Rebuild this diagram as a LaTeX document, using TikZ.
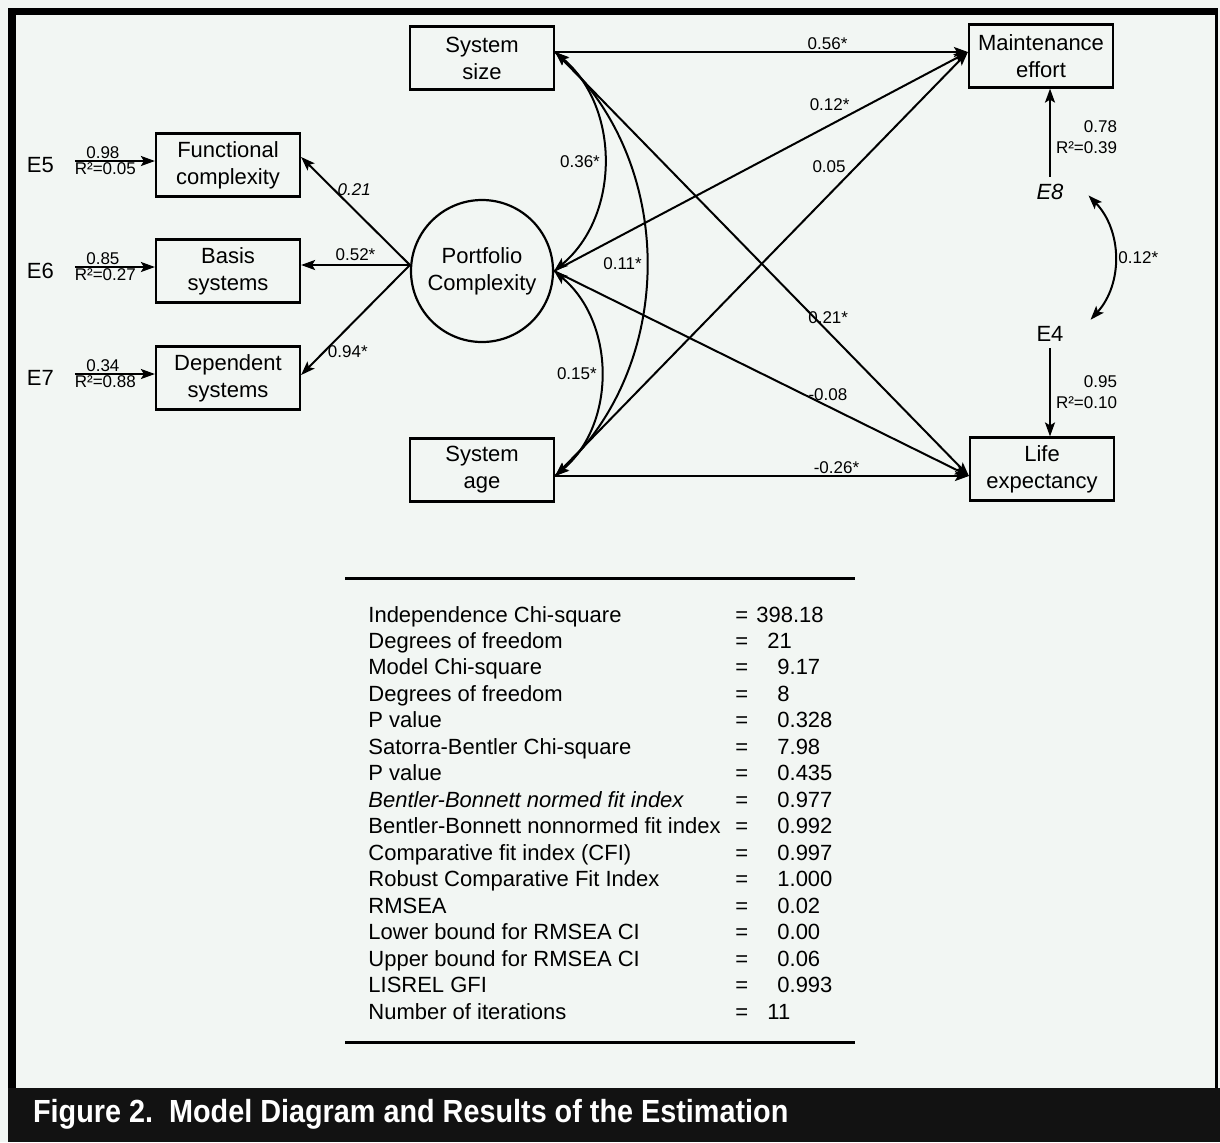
\documentclass[tikz,border=0pt]{standalone}
\usepackage{fontspec}
\setmainfont{Liberation Sans}
\newfontfamily\capfont[FakeStretch=0.9]{Liberation Sans Bold}
\usetikzlibrary{positioning,arrows.meta}
\definecolor{paper}{HTML}{F2F6F3}

\begin{document}
\begin{tikzpicture}[ x=0.5pt, y=-0.5pt,
	box/.style={draw, line width=1.1pt, minimum width=72pt, minimum height=31.5pt, inner sep=1pt, align=center, font=\fontsize{11}{13.5}\selectfont},
	latent/.style={draw, circle, line width=1.1pt, minimum size=71pt, inner sep=0pt, align=center, font=\fontsize{11}{13.5}\selectfont},
	err/.style={font=\fontsize{11}{13}\selectfont},
	coef/.style={font=\fontsize{8.5}{10.5}\selectfont, inner sep=1.5pt},
	fit/.style={font=\fontsize{11}{13}\selectfont, inner sep=0pt},
	path/.style={line width=1pt, -{Stealth[length=7pt,width=5pt,inset=1.5pt]}},
	cov/.style={line width=1pt, {Stealth[length=7pt,width=5pt,inset=1.5pt]}-{Stealth[length=7pt,width=5pt,inset=1.5pt]}} ]
	\useasboundingbox (0,0) rectangle (1220,1142);
	\fill[paper] (0,0) rectangle (1220,1142);
	% frame and caption band
	\fill[black] (8,8) rectangle (1218,15);
	\fill[black] (8,8) rectangle (16,1142);
	\draw[line width=1.5pt] (1216.5,8) -- (1216.5,1088);
	\fill[black!93] (8,1088) rectangle (1220,1142);
	\node[anchor=west, text=white, font=\capfont\fontsize{16}{18}\selectfont] (caption) at (26,1114) {Figure 2.\ \ Model Diagram and Results of the Estimation};

	% measured and latent variables
	\node[box] (size) at (482,58) {System\\size};
	\node[box] (maint) at (1041,56) {Maintenance\\effort};
	\node[box] (func) at (228,165) {Functional\\complexity};
	\node[box] (basis) at (228,271) {Basis\\systems};
	\node[box] (dep) at (228,378) {Dependent\\systems};
	\node[latent] (port) at (482,271) {Portfolio\\Complexity};
	\node[box] (age) at (482,470) {System\\age};
	\node[box] (life) at (1042,469) {Life\\expectancy};

	% error terms
	\node[err, left=47pt of func] (e5) {E5};
	\node[err, left=47pt of basis] (e6) {E6};
	\node[err, left=47pt of dep] (e7) {E7};
	\node[err, below=44pt of maint, xshift=4.5pt] (e8) {\itshape E8};
	\node[err, above=44pt of life, xshift=4pt] (e4) {E4};

	\foreach \e/\b/\l/\q in {e5/func/0.98/0.05, e6/basis/0.85/0.27, e7/dep/0.34/0.88}
		\draw[path] ([xshift=7pt,yshift=2pt]\e.east) -- ([yshift=2pt]\b.west)
			node[coef, pos=0.35, above=-1pt] {\l}
			node[coef, pos=0.38, below=-1pt] {R²=\q};

	\draw[path] (e8.north) -- (e8.north |- maint.south)
		node[coef, pos=0.45, right=1pt, align=right] {0.78\\R²=0.39};
	\draw[path] (e4.south) -- (e4.south |- life.north)
		node[coef, pos=0.5, right=1pt, align=right] {0.95\\R²=0.10};
	\draw[cov] ([xshift=9pt,yshift=-2pt]e8.east) to[bend left=43]
		node[coef, right] {0.12*} ([xshift=10pt,yshift=7pt]e4.east);

	% loadings
	\draw[path] ([yshift=3pt]port.west) -- ([yshift=4pt]func.east)
		node[coef, pos=0.7, right] {\itshape 0.21};
	\draw[path] ([yshift=3pt]port.west) -- ([yshift=3pt]basis.east)
		node[coef, midway, above] {0.52*};
	\draw[path] ([yshift=3pt]port.west) -- ([yshift=1.5pt]dep.east)
		node[coef, pos=0.79, right] {0.94*};

	% structural paths
	\coordinate (sizeR) at ([yshift=3pt]size.east);
	\coordinate (ageR) at ([yshift=-3pt]age.east);
	\coordinate (maintL) at ([yshift=2pt]maint.west);
	\coordinate (lifeL) at ([yshift=-3.5pt]life.west);
	\draw[path] (sizeR) -- (maintL) node[coef, pos=0.66, above=-1pt] {0.56*};
	\draw[path] (port.east) -- (maintL) node[coef, pos=0.72, above left=-1pt] {0.12*};
	\draw[path] (ageR) -- (maintL) node[coef, pos=0.71, above left=-1pt] {0.05};
	\draw[path] (sizeR) -- (lifeL) node[coef, pos=0.66, above=2pt] {0.21*};
	\draw[path] (port.east) -- (lifeL) node[coef, pos=0.66, above=1pt] {-0.08};
	\draw[path] (ageR) -- (lifeL) node[coef, pos=0.68, above=-1pt] {-0.26*};
	\draw[cov] (sizeR) to[bend left=50] node[coef, left] {0.36*} (port.east);
	\draw[cov] (sizeR) to[bend left=47] node[coef, left] {0.11*} (ageR);
	\draw[cov] (port.east) to[bend left=50] node[coef, left] {0.15*} (ageR);

	% fit statistics
	\draw[line width=1.5pt] (345,578) -- (855,578);
	\draw[line width=1.5pt] (345,1042) -- (855,1042);
	\foreach \k/\lbl/\vx/\val in {
		0/Independence Chi-square/756/398.18,
		1/Degrees of freedom/767/21,
		2/Model Chi-square/777/9.17,
		3/Degrees of freedom/777/8,
		4/P value/777/0.328,
		5/Satorra-Bentler Chi-square/777/7.98,
		6/P value/777/0.435,
		7/{\itshape Bentler-Bonnett normed fit index}/777/0.977,
		8/Bentler-Bonnett nonnormed fit index/777/0.992,
		9/Comparative fit index (CFI)/777/0.997,
		10/Robust Comparative Fit Index/777/1.000,
		11/RMSEA/777/0.02,
		12/Lower bound for RMSEA CI/777/0.00,
		13/Upper bound for RMSEA CI/777/0.06,
		14/LISREL GFI/777/0.993,
		15/Number of iterations/767/11} {
		\node[fit, anchor=base west] (lbl\k) at (368,{622+26.47*\k}) {\lbl};
		\node[fit, anchor=base west] (eq\k) at (735,{622+26.47*\k}) {=};
		\node[fit, anchor=base west] (val\k) at (\vx,{622+26.47*\k}) {\val};
	}
\end{tikzpicture}
\end{document}
